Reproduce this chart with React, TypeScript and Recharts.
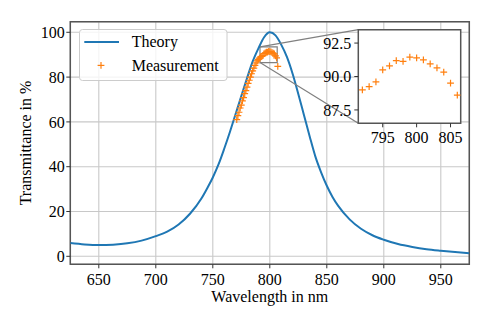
import {
  ComposedChart,
  ScatterChart,
  Line,
  Scatter,
  XAxis,
  YAxis,
  CartesianGrid,
  ReferenceArea,
  ReferenceLine,
  Legend,
  Label,
} from "recharts";

// theory curve
const theoryWavelength = [
  625, 637.5, 650, 662.5, 675, 687.5, 700, 710, 720, 730, 740, 745, 750, 755,
  760, 765, 770, 775, 780, 785, 790, 795, 800, 805, 810, 815, 820, 825, 830,
  835, 840, 845, 850, 855, 860, 870, 880, 890, 900, 912.5, 925, 937.5, 950,
  962.5, 975,
];
const theoryValues = [
  5.9, 5.3, 5.0, 5.2, 5.8, 7.0, 9.0, 11.0, 14.2, 19.0, 25.8, 30.3, 35.2, 41.0,
  48.0, 55.5, 63.5, 71.5, 79.5, 87.0, 92.8, 97.8, 100, 98.6, 94.5, 89.0, 81.5,
  72.5, 63.0, 53.5, 44.5, 37.5, 31.5, 26.5, 22.5, 16.5, 12.3, 9.4, 7.4, 5.5,
  4.2, 3.2, 2.5, 1.9, 1.4,
];

// measured points
const measWavelength = [
  771, 772, 773, 774, 775, 776, 777, 778, 779, 780, 781, 782, 783, 784, 785,
  786, 787, 788, 789, 790, 791, 792, 793, 794, 795, 796, 797, 798, 799, 800,
  801, 802, 803, 804, 805, 806, 807,
];
const measValues = [
  61.0, 62.8, 64.3, 66.2, 67.5, 69.4, 70.8, 72.6, 74.0, 75.5, 77.2, 78.6, 80.0,
  81.5, 82.8, 84.0, 85.2, 86.3, 87.2, 87.9, 88.5, 89.0, 89.25, 89.6, 90.5, 90.8,
  91.18, 91.13, 91.45, 91.4, 91.25, 90.95, 90.65, 90.33, 89.5, 88.6, 84.8,
];

const xTicks = [650, 700, 750, 800, 850, 900, 950];
const yTicks = [0, 20, 40, 60, 80, 100];
const insetXTicks = [795, 800, 805];
const insetYTicks = [87.5, 90, 92.5];

const theoryData = theoryWavelength.map((wl, i) => ({ wl, t: theoryValues[i] }));
const measData = measWavelength.map((wl, i) => ({ wl, m: measValues[i] }));

const W = 491;
const H = 327;
const FONT = "'Liberation Serif', 'Times New Roman', serif";
const BLUE = "#1f77b4";
const ORANGE = "#ff7f0e";
const SPINE = "#555";
const GRID = "#c8c8c8";

// main axes box (px) and limits
const PLOT = { left: 70.3, top: 21.7, right: 469.3, bottom: 264.3 };
const X_DOM: [number, number] = [625, 975];
const Y_DOM: [number, number] = [-3.57, 104.73];

// inset axes box (px) and limits
const INSET = { left: 358.3, top: 29.7, right: 460.7, bottom: 123.3 };
const INSET_X: [number, number] = [791.4, 806.5];
const INSET_Y: [number, number] = [86.5, 93.5];

const pxToX = (px: number) =>
  X_DOM[0] + ((px - PLOT.left) / (PLOT.right - PLOT.left)) * (X_DOM[1] - X_DOM[0]);
const pxToY = (py: number) =>
  Y_DOM[1] - ((py - PLOT.top) / (PLOT.bottom - PLOT.top)) * (Y_DOM[1] - Y_DOM[0]);

const textStyle = { fontFamily: FONT, fontSize: 16, fill: "#000" };

const makeTick = (anchor: "middle" | "end", dy: string, digits = 0) =>
  (props: any) => {
    const { x, y, payload } = props;
    return (
      <text x={x} y={y} dy={dy} textAnchor={anchor} style={textStyle}>
        {Number(payload.value).toFixed(digits)}
      </text>
    );
  };

const Plus = (props: any) => {
  const { cx, cy } = props;
  if (cx == null || cy == null) return null;
  const s = 3.4;
  return (
    <g>
      <line x1={cx - s} x2={cx + s} y1={cy} y2={cy} stroke={ORANGE} strokeWidth={1.2} />
      <line x1={cx} x2={cx} y1={cy - s} y2={cy + s} stroke={ORANGE} strokeWidth={1.2} />
    </g>
  );
};

const renderLegend = () => (
  <svg width={149} height={52} style={{ display: "block" }}>
    <rect
      x={0.5}
      y={0.5}
      width={147.5}
      height={51}
      rx={3}
      fill="#fff"
      fillOpacity={0.8}
      stroke="#ccc"
    />
    <line x1={5.3} x2={40} y1={13} y2={13} stroke={BLUE} strokeWidth={2} />
    <text x={52.7} y={18.4} style={textStyle}>
      Theory
    </text>
    <Plus cx={22} cy={36.4} />
    <text x={52.7} y={42.4} style={textStyle}>
      Measurement
    </text>
  </svg>
);

export default function App() {
  const insetData = measData.filter(
    (d) => d.wl >= INSET_X[0] && d.wl <= INSET_X[1]
  );
  const IL = 300;
  const IT = 20;
  const IW = 170;
  const IH = 130;
  const midY = (PLOT.top + PLOT.bottom) / 2;

  return (
    <div
      style={{
        position: "absolute",
        left: 0,
        top: 0,
        width: W,
        height: H,
        background: "#fff",
        fontFamily: FONT,
      }}
    >
      <ComposedChart
        width={W}
        height={H}
        margin={{ top: PLOT.top, right: W - PLOT.right, bottom: 0, left: 0 }}
      >
        <CartesianGrid stroke={GRID} strokeWidth={1.1} />
        <XAxis
          dataKey="wl"
          type="number"
          domain={X_DOM}
          ticks={xTicks}
          allowDataOverflow
          height={H - PLOT.bottom}
          axisLine={false}
          tickLine={{ stroke: "#333" }}
          tickSize={4}
          tickMargin={5}
          tick={makeTick("middle", "0.71em")}
        >
          <Label
            content={() => (
              <text
                x={(PLOT.left + PLOT.right) / 2}
                y={302}
                textAnchor="middle"
                style={textStyle}
              >
                Wavelength in nm
              </text>
            )}
          />
        </XAxis>
        <YAxis
          type="number"
          domain={Y_DOM}
          ticks={yTicks}
          allowDataOverflow
          width={PLOT.left}
          axisLine={false}
          tickLine={{ stroke: "#333" }}
          tickSize={4}
          tickMargin={1.5}
          tick={makeTick("end", "0.355em")}
        >
          <Label
            content={() => (
              <text
                x={31}
                y={midY}
                transform={`rotate(-90, 31, ${midY})`}
                textAnchor="middle"
                style={textStyle}
              >
                Transmittance in %
              </text>
            )}
          />
        </YAxis>
        <Legend
          layout="vertical"
          align="center"
          verticalAlign="middle"
          content={renderLegend}
          wrapperStyle={{ left: 79, top: 29, width: 149, height: 52 }}
        />
        <Line
          data={theoryData}
          dataKey="t"
          type="monotone"
          dot={false}
          stroke={BLUE}
          strokeWidth={2}
          isAnimationActive={false}
        />
        <Scatter
          data={measData}
          dataKey="m"
          shape={Plus}
          isAnimationActive={false}
        />
        <ReferenceArea
          x1={INSET_X[0]}
          x2={INSET_X[1]}
          y1={INSET_Y[0]}
          y2={INSET_Y[1]}
          fill="none"
          stroke="#808080"
          strokeWidth={1.2}
        />
        <ReferenceLine
          segment={[
            { x: INSET_X[0], y: INSET_Y[1] },
            { x: pxToX(INSET.left), y: pxToY(INSET.top) },
          ]}
          stroke="#808080"
          strokeWidth={1.2}
        />
        <ReferenceLine
          segment={[
            { x: INSET_X[0], y: INSET_Y[0] },
            { x: pxToX(INSET.left), y: pxToY(INSET.bottom) },
          ]}
          stroke="#808080"
          strokeWidth={1.2}
        />
        <ReferenceArea
          x1={X_DOM[0]}
          x2={X_DOM[1]}
          y1={Y_DOM[0]}
          y2={Y_DOM[1]}
          fill="none"
          stroke={SPINE}
          strokeWidth={1.5}
        />
      </ComposedChart>

      <div
        style={{
          position: "absolute",
          left: INSET.left,
          top: INSET.top,
          width: INSET.right - INSET.left,
          height: INSET.bottom - INSET.top,
          background: "#fff",
        }}
      />
      <div style={{ position: "absolute", left: IL, top: IT }}>
        <ScatterChart
          width={IW}
          height={IH}
          margin={{
            top: INSET.top - IT,
            right: IL + IW - INSET.right,
            bottom: 0,
            left: 0,
          }}
        >
          <XAxis
            dataKey="wl"
            type="number"
            domain={INSET_X}
            ticks={insetXTicks}
            allowDataOverflow
            height={IT + IH - INSET.bottom}
            axisLine={false}
            tickLine={{ stroke: "#333" }}
            tickSize={4}
            tickMargin={4.2}
            tick={makeTick("middle", "0.71em")}
          />
          <YAxis
            type="number"
            domain={INSET_Y}
            ticks={insetYTicks}
            allowDataOverflow
            width={INSET.left - IL}
            axisLine={false}
            tickLine={{ stroke: "#333" }}
            tickSize={4}
            tickMargin={3}
            tick={makeTick("end", "0.355em", 1)}
          />
          <Scatter
            data={insetData}
            dataKey="m"
            shape={Plus}
            isAnimationActive={false}
          />
          <ReferenceArea
            x1={INSET_X[0]}
            x2={INSET_X[1]}
            y1={INSET_Y[0]}
            y2={INSET_Y[1]}
            fill="none"
            stroke={SPINE}
            strokeWidth={1.5}
          />
        </ScatterChart>
      </div>
    </div>
  );
}
